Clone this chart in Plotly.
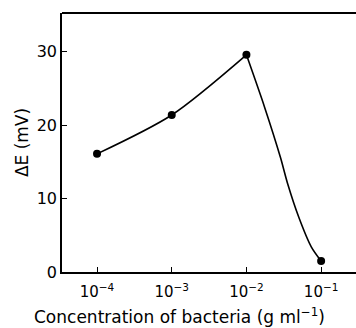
import plotly.graph_objects as go

# Measured response vs bacteria concentration
conc = [1e-4, 1e-3, 1e-2, 1e-1]
delta_e = [16.1, 21.4, 29.6, 1.5]

# Hand-drawn guide curve: rising branch and steep falling branch
rise_x = [1e-4, 1e-3, 1e-2]
rise_y = [16.1, 21.4, 29.6]
fall_x = [1e-2, 10 ** -1.758, 10 ** -1.544, 10 ** -1.45, 10 ** -1.30, 10 ** -1.13, 1e-1]
fall_y = [29.6, 22.5, 15.6, 12.1, 7.5, 3.4, 1.5]

x_tickvals = [1e-4, 1e-3, 1e-2, 1e-1]
x_ticktext = ["10<sup>−4</sup>", "10<sup>−3</sup>", "10<sup>−2</sup>", "10<sup>−1</sup>"]
y_tickvals = [0, 10, 20, 30]

x_title = "Concentration of bacteria (g ml<sup>−1</sup>)"
y_title = "ΔE (mV)"

font = dict(family="DejaVu Sans, sans-serif", color="black")

fig = go.Figure()
fig.add_trace(go.Scatter(x=rise_x, y=rise_y, mode="lines",
                         line=dict(color="black", width=1.6, shape="spline", smoothing=0.8),
                         hoverinfo="skip"))
fig.add_trace(go.Scatter(x=fall_x, y=fall_y, mode="lines",
                         line=dict(color="black", width=1.6, shape="spline", smoothing=0.8),
                         hoverinfo="skip"))
fig.add_trace(go.Scatter(x=conc, y=delta_e, mode="markers",
                         marker=dict(color="black", size=8)))

fig.update_layout(
    width=356, height=328,
    margin=dict(l=62, r=0, t=13, b=56),
    paper_bgcolor="white", plot_bgcolor="white",
    showlegend=False,
    font=dict(size=15, **font),
    xaxis=dict(
        type="log", range=[-4.469, -0.533],
        tickvals=x_tickvals, ticktext=x_ticktext,
        ticks="inside", ticklen=5, tickwidth=1.3, tickcolor="black",
        ticklabelstandoff=5,
        showline=True, linecolor="black", linewidth=1.6,
        showgrid=False, zeroline=False,
        tickfont=dict(size=15, **font),
    ),
    yaxis=dict(
        range=[0, 35.3],
        tickvals=y_tickvals,
        ticks="inside", ticklen=5, tickwidth=1.3, tickcolor="black",
        showline=True, linecolor="black", linewidth=1.6,
        showgrid=False, zeroline=False,
        tickfont=dict(size=16, **font),
        title=dict(text=y_title, font=dict(size=17, **font), standoff=4),
    ),
    shapes=[dict(type="line", xref="paper", yref="paper", x0=0, x1=1, y0=1, y1=1,
                 line=dict(color="black", width=1.8))],
    annotations=[dict(text=x_title, xref="paper", yref="paper", x=0.401, y=-0.222,
                      xanchor="center", yanchor="bottom", showarrow=False,
                      font=dict(size=17, **font))],
)

fig.write_html("out.html")
